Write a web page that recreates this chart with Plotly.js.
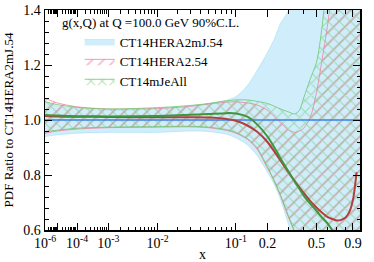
<!DOCTYPE html>
<html>
<head>
<meta charset="utf-8">
<script src="https://cdn.plot.ly/plotly-3.0.1.min.js"></script>
<style>html,body{margin:0;padding:0;background:#fff}#chart{width:374px;height:262px}</style>
</head>
<body>
<div id="chart"></div>
<script>
// x grid (momentum fraction)
const xGrid = [1e-6,1e-5,1e-4,1e-3,1e-2,0.03,0.05,0.08,0.1,0.13,0.16,0.2,0.23,0.26,0.3,0.34,0.37,0.4,0.45,0.5,0.55,0.6,0.65,0.7,0.75,0.8,0.85,0.9,0.95,1.0];

// CT14HERA2mJ.54 (reference) band
const mJUpper = [1.065,1.052,1.042,1.036,1.04,1.05,1.06,1.072,1.085,1.125,1.178,1.245,1.295,1.352,1.395,1.5,1.6,1.75,2.0,2.2,2.4,2.5,2.6,2.7,2.8,2.9,3.0,3.0,3.0,3.0];
const mJLower = [0.94,0.946,0.952,0.955,0.955,0.96,0.958,0.948,0.935,0.91,0.872,0.81,0.765,0.71,0.625,0.55,0.5,0.44,0.36,0.3,0.25,0.2,0.2,0.2,0.2,0.2,0.2,0.2,0.2,0.2];
const mJCentral = [1,1,1,1,1,1,1,1,1,1,1,1,1,1,1,1,1,1,1,1,1,1,1,1,1,1,1,1,1,1];

// CT14HERA2.54 band
const h2Upper = [1.079,1.062,1.048,1.04,1.042,1.05,1.058,1.065,1.066,1.062,1.055,1.035,1.012,0.99,0.965,0.955,0.96,0.97,1.01,1.1,1.22,1.34,1.48,1.65,1.8,2.0,2.2,2.4,2.5,2.6];
const h2Lower = [0.952,0.96,0.967,0.972,0.974,0.975,0.972,0.962,0.952,0.93,0.895,0.825,0.78,0.725,0.65,0.595,0.555,0.52,0.47,0.43,0.4,0.38,0.36,0.35,0.34,0.33,0.32,0.31,0.3,0.3];
const h2Central = [1.015,1.013,1.012,1.011,1.01,1.01,1.009,1.004,0.997,0.98,0.958,0.92,0.885,0.852,0.812,0.778,0.755,0.735,0.705,0.682,0.663,0.648,0.64,0.635,0.637,0.645,0.665,0.71,0.81];

// CT14mJeAll band
const jeUpper = [1.067,1.056,1.046,1.04,1.045,1.053,1.06,1.07,1.073,1.073,1.068,1.06,1.05,1.04,1.03,1.022,1.035,1.08,1.15,1.21,1.34,1.55,1.75,2.0,2.2,2.4,2.5,2.6,2.7,2.8];
const jeLower = [0.957,0.963,0.97,0.974,0.976,0.977,0.974,0.965,0.955,0.932,0.9,0.83,0.775,0.725,0.655,0.59,0.55,0.5,0.45,0.4,0.36,0.33,0.3,0.28,0.26,0.24,0.22,0.2,0.2,0.2];
const jeCentral = [1.018,1.016,1.014,1.013,1.015,1.019,1.022,1.025,1.024,1.012,0.985,0.94,0.9,0.86,0.815,0.775,0.75,0.725,0.695,0.67,0.645,0.625,0.6,0.58,0.56,0.54,0.52,0.5,0.48,0.46];

// axis ticks
const majorTickX = [1e-6,1e-5,1e-4,1e-3,1e-2,0.1,0.2,0.5,0.9];
const majorTickText = ['10<sup>-6</sup>','','10<sup>-4</sup>','10<sup>-3</sup>','10<sup>-2</sup>','10<sup>-1</sup>','0.2','0.5','0.9'];
const yTickVals = [0.6,0.8,1.0,1.2,1.4];
const yTickText = ['0.6','0.8','1.0','1.2','1.4'];

// x scale: x^0.2
const P = 0.2;
const T = x => Math.pow(x, P);

const minorX = [];
for (let e = -6; e <= -2; e++) for (let k = 2; k <= 9; k++) minorX.push(k * Math.pow(10, e));
[0.3,0.4,0.6,0.7,0.8].forEach(v => minorX.push(v));

const FONT = 'Liberation Serif';
const tx = xGrid.map(T);

const pinkC = 'rgb(242,128,162)';
const greenC = 'rgb(105,200,105)';

function band(lo, hi, name, opts) {
  return [
    {x: tx, y: lo, type: 'scatter', mode: 'lines', line: {shape: 'spline', smoothing: 0.8, width: opts.lw, color: opts.lc},
     showlegend: false, hoverinfo: 'skip'},
    Object.assign({x: tx, y: hi, type: 'scatter', mode: 'lines', name: name, fill: 'tonexty',
     line: {shape: 'spline', smoothing: 0.8, width: opts.lw, color: opts.lc}, hoverinfo: 'skip'}, opts.fill)
  ];
}

const traces = [
  ...band(mJLower, mJUpper, 'CT14HERA2mJ.54', {lw: 0.6, lc: 'rgba(150,215,245,0.8)', fill: {fillcolor: 'rgba(160,220,248,0.5)'}}),
  ...band(h2Lower, h2Upper, 'CT14HERA2.54', {lw: 0.8, lc: pinkC, fill: {fillcolor: 'rgba(0,0,0,0)',
      fillpattern: {shape: '/', fgcolor: pinkC, bgcolor: 'rgba(0,0,0,0)', size: 8, solidity: 0.24, fillmode: 'overlay'}}}),
  ...band(jeLower, jeUpper, 'CT14mJeAll', {lw: 0.8, lc: greenC, fill: {fillcolor: 'rgba(0,0,0,0)',
      fillpattern: {shape: 'x', fgcolor: greenC, bgcolor: 'rgba(0,0,0,0)', size: 8, solidity: 0.24, fillmode: 'overlay'}}}),
  {x: tx, y: mJCentral, type: 'scatter', mode: 'lines', line: {color: 'rgb(60,130,230)', width: 1.6}, showlegend: false},
  {x: tx.slice(0, h2Central.length), y: h2Central, type: 'scatter', mode: 'lines', line: {color: 'rgb(178,62,62)', width: 2, shape: 'spline', smoothing: 0.8}, showlegend: false},
  {x: tx, y: jeCentral, type: 'scatter', mode: 'lines', line: {color: 'rgb(60,150,60)', width: 2, shape: 'spline', smoothing: 0.8}, showlegend: false}
];

const layout = {
  width: 374, height: 262,
  margin: {l: 45, r: 14, t: 10, b: 32},
  paper_bgcolor: '#fff', plot_bgcolor: '#fff',
  font: {family: FONT, size: 14, color: '#000'},
  showlegend: true,
  legend: {x: 0.11, y: 0.925, xanchor: 'left', yanchor: 'top', bgcolor: 'rgba(0,0,0,0)', font: {family: FONT, size: 13, color: '#000'}, traceorder: 'normal'},
  xaxis: {
    range: [T(1e-6), 1], tickmode: 'array', tickvals: majorTickX.map(T), ticktext: majorTickText, tickangle: 0,
    ticks: 'inside', ticklen: 7, tickwidth: 1, tickcolor: '#000', mirror: 'ticks',
    showline: true, linewidth: 1.5, linecolor: '#000', showgrid: false, zeroline: false,
    minor: {tickmode: 'array', tickvals: minorX.map(T), ticklen: 3.5, tickwidth: 1, tickcolor: '#000', ticks: 'inside'},
    tickfont: {family: FONT, size: 14, color: '#000'},
    title: {text: 'x', font: {family: FONT, size: 14}, standoff: 2}
  },
  yaxis: {
    range: [0.6, 1.4], tickmode: 'array', tickvals: yTickVals, ticktext: yTickText,
    ticks: 'inside', ticklen: 7, tickwidth: 1, tickcolor: '#000', mirror: 'ticks',
    showline: true, linewidth: 1.5, linecolor: '#000', showgrid: false, zeroline: false,
    minor: {dtick: 0.04, tick0: 0.6, ticklen: 3.5, tickwidth: 1, tickcolor: '#000', ticks: 'inside'},
    tickfont: {family: FONT, size: 14, color: '#000'},
    title: {text: 'PDF Ratio to CT14HERA2mJ.54', font: {family: FONT, size: 13}, standoff: 6}
  },
  annotations: [{
    xref: 'paper', yref: 'paper', x: 0.048, y: 0.945, xanchor: 'left', yanchor: 'middle', showarrow: false,
    text: 'g(x,Q) at Q =100.0 GeV 90%C.L.', font: {family: FONT, size: 13}
  }]
};

Plotly.newPlot('chart', traces, layout, {staticPlot: true, displayModeBar: false});
</script>
</body>
</html>
